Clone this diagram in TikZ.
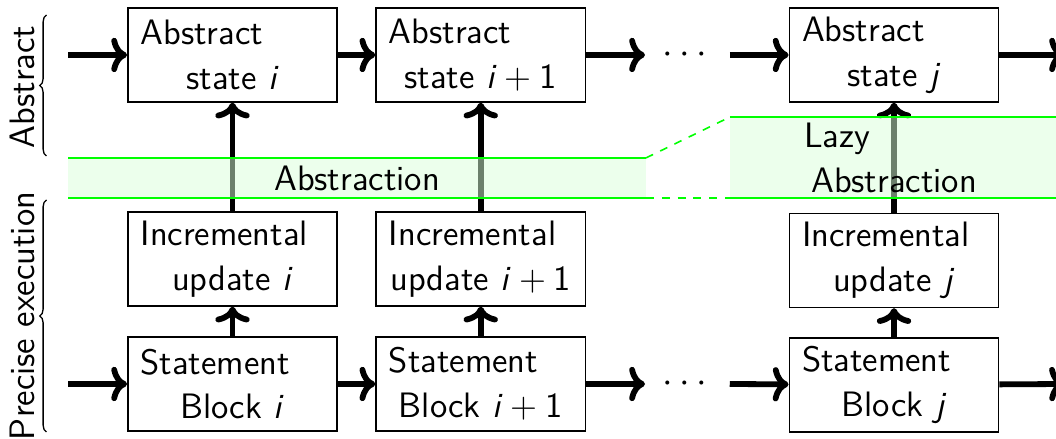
\documentclass[tikz,border=0pt]{standalone}
\usetikzlibrary{decorations.pathreplacing, arrows.meta}

\newcommand{\firstline}[1]{\makebox[\linewidth][l]{#1}}
\newcommand{\plusone}[1]{\mbox{\textit{#1}\kern.22em+\kern.22em1}}

\begin{document}
\begin{tikzpicture}[
  font=\fontsize{13.4}{17}\selectfont\sffamily,
  box/.style={draw, line width=0.6pt, minimum width=2.79cm, minimum height=1.25cm,
    text width=2.45cm, inner xsep=0.17cm, inner ysep=0pt, align=center},
  flow/.style={line width=2.2pt, -{To[length=6pt, width=13pt]}},
  band/.style={fill=green!15, fill opacity=0.5},
  bandline/.style={draw=green, line width=0.6pt},
  sidebrace/.style={decorate, decoration={brace, amplitude=0.09cm}, line width=0.5pt}
]
  \useasboundingbox (0,0) rectangle (14.08,5.853);

  % abstract states
  \node[box] (as1) at (3.10,5.12) {\firstline{Abstract}\\state \textit{i}};
  \node[box] (as2) at (6.41,5.12) {\firstline{Abstract}\\state \plusone{i}};
  \node[box] (as3) at (11.92,5.12) {\firstline{Abstract}\\state \textit{j}};

  % incremental updates
  \node[box] (iu1) at (3.10,2.40) {\firstline{Incremental}\\update \textit{i}};
  \node[box] (iu2) at (6.41,2.40) {\firstline{Incremental}\\update \plusone{i}};
  \node[box] (iu3) at (11.92,2.38) {\firstline{Incremental}\\update \textit{j}};

  % statement blocks
  \node[box] (sb1) at (3.10,0.733) {\firstline{Statement}\\Block \textit{i}};
  \node[box] (sb2) at (6.41,0.733) {\firstline{Statement}\\Block \plusone{i}};
  \node[box] (sb3) at (11.92,0.72) {\firstline{Statement}\\Block \textit{j}};

  \node (dotsA) at (9.13,5.12) {$\cdots$};
  \node (dotsS) at (9.13,0.733) {$\cdots$};

  \coordinate (inA) at (0.907,5.12);
  \coordinate (inS) at (0.907,0.733);
  \coordinate (gapA) at (8.60,5.12);
  \coordinate (gapS) at (8.60,0.733);
  \coordinate (resA) at (9.73,5.12);
  \coordinate (resS) at (9.73,0.733);
  \coordinate (outA) at (14.2,5.12);
  \coordinate (outS) at (14.2,0.733);

  % horizontal flow
  \draw[flow] (inA) -- (as1);
  \draw[flow] (as1) -- (as2);
  \draw[flow] (as2) -- (gapA);
  \draw[flow] (resA) -- (as3);
  \draw[flow] (as3) -- (outA);
  \draw[flow] (inS) -- (sb1);
  \draw[flow] (sb1) -- (sb2);
  \draw[flow] (sb2) -- (gapS);
  \draw[flow] (resS) -- (sb3);
  \draw[flow] (sb3) -- (outS);

  % vertical flow
  \draw[flow] (sb1) -- (iu1);
  \draw[flow] (sb2) -- (iu2);
  \draw[flow] (sb3) -- (iu3);
  \draw[flow] (iu1) -- (as1);
  \draw[flow] (iu2) -- (as2);
  \draw[flow] (iu3) -- (as3);

  % abstraction bands
  \coordinate (bLtl) at (0.907,3.747);
  \coordinate (bLbl) at (0.907,3.213);
  \coordinate (bLtr) at (8.613,3.747);
  \coordinate (bLbr) at (8.613,3.213);
  \coordinate (bRtl) at (9.733,4.293);
  \coordinate (bRbl) at (9.733,3.213);
  \coordinate (bRtr) at (14.08,4.293);
  \coordinate (bRbr) at (14.08,3.213);
  \fill[band] (bLbl) rectangle (bLtr);
  \fill[band] (bRbl) rectangle (bRtr);
  \draw[bandline] (bLtl) -- (bLtr);
  \draw[bandline] (bLbl) -- (bLbr);
  \draw[bandline] (bRtl) -- (bRtr);
  \draw[bandline] (bRbl) -- (bRbr);
  \draw[bandline, dashed] (bLtr) -- (bRtl);
  \draw[bandline, dashed] (bLbr) -- (bRbl);

  \node (abs) at (4.76,3.48) {Abstraction};
  \node[text width=2.4cm, align=center] (lazy) at (11.92,3.75)
    {\firstline{Lazy}\\Abstraction};

  % side braces
  \draw[sidebrace] (0.62,3.773) -- (0.62,5.653);
  \draw[sidebrace] (0.62,0.093) -- (0.62,3.187);
  \node[rotate=90] (lblA) at (0.293,4.693) {Abstract};
  \node[rotate=90] (lblP) at (0.293,1.64) {Precise execution};
\end{tikzpicture}
\end{document}
